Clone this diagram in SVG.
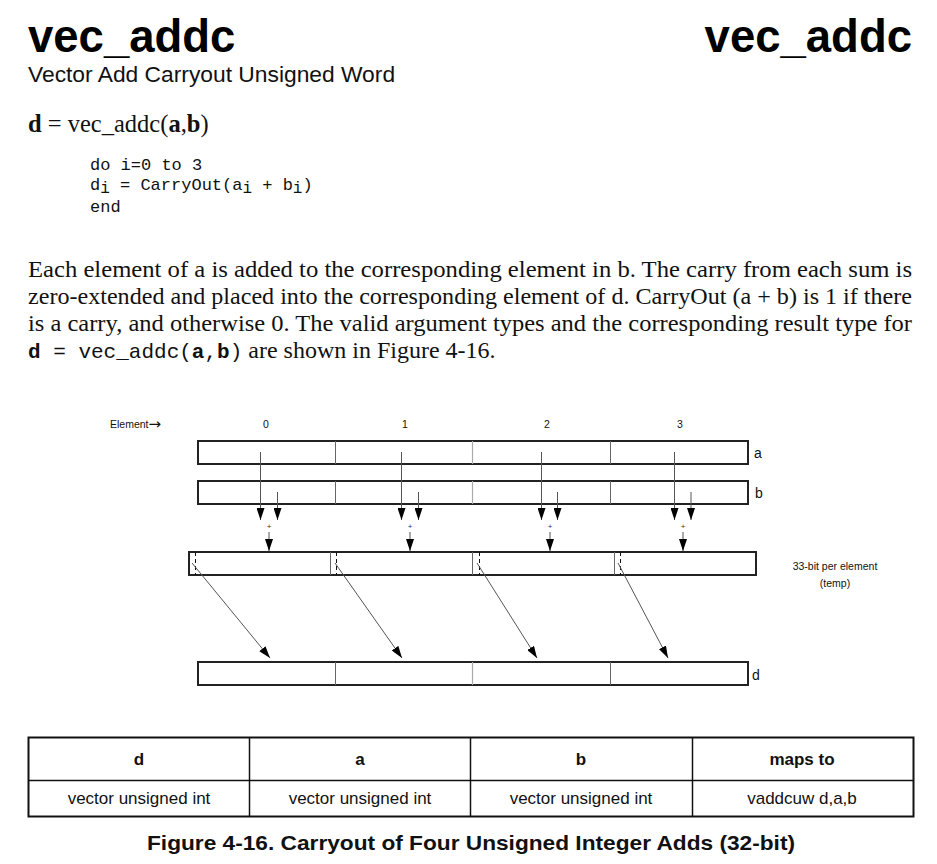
<svg xmlns="http://www.w3.org/2000/svg" width="937" height="864" viewBox="0 0 937 864">
<style>
.sans{font-family:"Liberation Sans",Arial,sans-serif}
.serif{font-family:"Liberation Serif","Times New Roman",serif}
.mono{font-family:"Liberation Mono","Courier New",monospace}
.box{fill:#fff;stroke:#222;stroke-width:2}
.div{stroke:#666;stroke-width:1}
.divl{stroke:#aaa;stroke-width:1.2}
.arr{stroke:#555;stroke-width:1;fill:none}
.dash{stroke:#111;stroke-width:1;stroke-dasharray:4,3}
.lbl{font-size:10.5px;fill:#111}
.tbl{fill:none;stroke:#111;stroke-width:1.5}
.cell{font-size:17px;text-anchor:middle;fill:#111}
</style>
<defs>
<marker id="ah" markerWidth="12" markerHeight="8" refX="12" refY="4" orient="auto" markerUnits="userSpaceOnUse">
<path d="M0,0 L12,4 L0,8 Z" fill="#000"/>
</marker>
</defs>

<g id="header">
<text class="sans" x="28" y="52" font-size="45.5" font-weight="bold" fill="#000">vec_addc</text>
<text class="sans" x="912" y="52" font-size="45.5" font-weight="bold" fill="#000" text-anchor="end">vec_addc</text>
<text class="sans" x="28" y="82" font-size="22.8" fill="#111">Vector Add Carryout Unsigned Word</text>
<text class="serif" x="28" y="132" font-size="24.5" fill="#111"><tspan font-weight="bold">d</tspan> = vec_addc(<tspan font-weight="bold">a</tspan>,<tspan font-weight="bold">b</tspan>)</text>
<g class="mono" font-size="17" fill="#111">
<text x="90" y="170">do i=0 to 3</text>
<text x="90" y="190">d<tspan dy="3" font-size="16">i</tspan><tspan dy="-3"> = CarryOut(a</tspan><tspan dy="3" font-size="16">i</tspan><tspan dy="-3"> + b</tspan><tspan dy="3" font-size="16">i</tspan><tspan dy="-3">)</tspan></text>
<text x="90" y="212">end</text>
</g>
</g>

<g id="paragraph" class="serif" font-size="24" fill="#111">
<text x="28" y="277" textLength="884" lengthAdjust="spacingAndGlyphs">Each element of a is added to the corresponding element in b. The carry from each sum is</text>
<text x="28" y="304" textLength="884" lengthAdjust="spacingAndGlyphs">zero-extended and placed into the corresponding element of d. CarryOut (a + b) is 1 if there</text>
<text x="28" y="331" textLength="884" lengthAdjust="spacingAndGlyphs">is a carry, and otherwise 0. The valid argument types and the corresponding result type for</text>
<text x="28" y="358"><tspan class="mono" font-size="21"><tspan font-weight="bold">d</tspan> = vec_addc(<tspan font-weight="bold">a</tspan>,<tspan font-weight="bold">b</tspan>)</tspan> are shown in Figure 4-16.</text>
</g>

<g id="labels" class="sans">
<text class="lbl" x="110" y="428">Element<tspan font-family="'DejaVu Sans',sans-serif" font-size="15" dy="1">→</tspan></text>
<text class="lbl" x="266" y="428" text-anchor="middle">0</text>
<text class="lbl" x="405" y="428" text-anchor="middle">1</text>
<text class="lbl" x="547" y="428" text-anchor="middle">2</text>
<text class="lbl" x="680" y="428" text-anchor="middle">3</text>
<text x="754" y="458" font-size="14" fill="#111">a</text>
<text x="755" y="498" font-size="14" fill="#111">b</text>
<text x="752" y="680" font-size="14" fill="#111">d</text>
<text class="lbl" x="835" y="570" font-size="11" text-anchor="middle">33-bit per element</text>
<text class="lbl" x="835" y="587" font-size="11" text-anchor="middle">(temp)</text>
</g>

<g id="vector-a">
<rect class="box" x="198" y="441" width="550" height="23"/>
<line class="div" x1="335.5" y1="441" x2="335.5" y2="464"/>
<line class="divl" x1="472.5" y1="441" x2="472.5" y2="464"/>
<line class="div" x1="610.5" y1="441" x2="610.5" y2="464"/>
</g>
<g id="vector-b">
<rect class="box" x="198" y="481" width="550" height="23"/>
<line class="div" x1="335.5" y1="481" x2="335.5" y2="504"/>
<line class="divl" x1="472.5" y1="481" x2="472.5" y2="504"/>
<line class="div" x1="610.5" y1="481" x2="610.5" y2="504"/>
</g>
<g id="vector-temp">
<rect class="box" x="189" y="552" width="567" height="23"/>
<line class="div" x1="330.5" y1="552" x2="330.5" y2="575"/>
<line class="div" x1="472.5" y1="552" x2="472.5" y2="575"/>
<line class="div" x1="614.5" y1="552" x2="614.5" y2="575"/>
<line class="dash" x1="195.5" y1="552" x2="195.5" y2="575"/>
<line class="dash" x1="336.5" y1="552" x2="336.5" y2="575"/>
<line class="dash" x1="479.5" y1="552" x2="479.5" y2="575"/>
<line class="dash" x1="620.5" y1="552" x2="620.5" y2="575"/>
</g>
<g id="vector-d">
<rect class="box" x="198" y="662" width="550" height="23"/>
<line class="div" x1="335.5" y1="662" x2="335.5" y2="685"/>
<line class="divl" x1="472.5" y1="662" x2="472.5" y2="685"/>
<line class="div" x1="610.5" y1="662" x2="610.5" y2="685"/>
</g>

<g id="connectors">
<line class="arr" x1="260.5" y1="452" x2="260.5" y2="520" marker-end="url(#ah)"/>
<line class="arr" x1="277.5" y1="492" x2="277.5" y2="520" marker-end="url(#ah)"/>
<line class="arr" x1="269" y1="532" x2="269" y2="551" marker-end="url(#ah)"/>
<line class="arr" x1="401.5" y1="452" x2="401.5" y2="520" marker-end="url(#ah)"/>
<line class="arr" x1="418.5" y1="492" x2="418.5" y2="520" marker-end="url(#ah)"/>
<line class="arr" x1="410" y1="532" x2="410" y2="551" marker-end="url(#ah)"/>
<line class="arr" x1="541.5" y1="452" x2="541.5" y2="520" marker-end="url(#ah)"/>
<line class="arr" x1="557.5" y1="492" x2="557.5" y2="520" marker-end="url(#ah)"/>
<line class="arr" x1="550" y1="532" x2="550" y2="551" marker-end="url(#ah)"/>
<line class="arr" x1="674.5" y1="452" x2="674.5" y2="520" marker-end="url(#ah)"/>
<line class="arr" x1="691" y1="492" x2="691" y2="520" marker-end="url(#ah)"/>
<line class="arr" x1="683" y1="532" x2="683" y2="551" marker-end="url(#ah)"/>
<line class="arr" x1="192" y1="563" x2="270" y2="658" marker-end="url(#ah)"/>
<line class="arr" x1="335" y1="563" x2="402" y2="658" marker-end="url(#ah)"/>
<line class="arr" x1="477" y1="563" x2="537" y2="658" marker-end="url(#ah)"/>
<line class="arr" x1="618" y1="563" x2="668" y2="658" marker-end="url(#ah)"/>
<g class="sans" font-size="8" fill="#333" text-anchor="middle">
<text x="269" y="529">+</text>
<text x="410" y="529">+</text>
<text x="550" y="529">+</text>
<text x="683" y="529">+</text>
</g>
</g>

<g id="table">
<rect x="28.5" y="737.5" width="885" height="79" fill="#fff" stroke="#111" stroke-width="2"/>
<line class="tbl" x1="28" y1="780.5" x2="913" y2="780.5"/>
<line class="tbl" x1="249.5" y1="737" x2="249.5" y2="817"/>
<line class="tbl" x1="470.5" y1="737" x2="470.5" y2="817"/>
<line class="tbl" x1="692.5" y1="737" x2="692.5" y2="817"/>
<g class="sans">
<text class="cell" x="139" y="765" font-weight="bold">d</text>
<text class="cell" x="360" y="765" font-weight="bold">a</text>
<text class="cell" x="581" y="765" font-weight="bold">b</text>
<text class="cell" x="802" y="765" font-weight="bold">maps to</text>
<text class="cell" x="139" y="804">vector unsigned int</text>
<text class="cell" x="360" y="804">vector unsigned int</text>
<text class="cell" x="581" y="804">vector unsigned int</text>
<text class="cell" x="802" y="804">vaddcuw d,a,b</text>
</g>
</g>

<text id="caption" class="sans" x="471" y="850" font-size="21" font-weight="bold" fill="#111" text-anchor="middle" textLength="648" lengthAdjust="spacingAndGlyphs">Figure 4-16. Carryout of Four Unsigned Integer Adds (32-bit)</text>
</svg>
